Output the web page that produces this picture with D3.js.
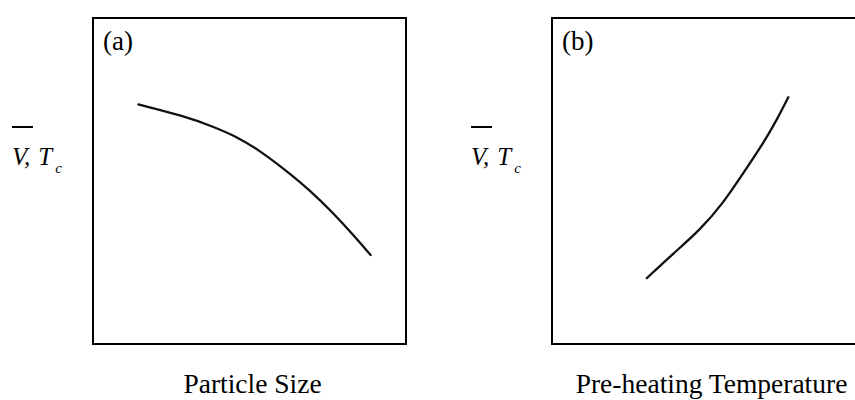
<!DOCTYPE html>
<html>
<head>
<meta charset="utf-8">
<script src="https://cdn.jsdelivr.net/npm/d3@7"></script>
<style>
  html, body { margin: 0; padding: 0; background: #fff; }
  svg { display: block; }
</style>
</head>
<body>
<svg id="chart" width="855" height="400"></svg>
<script>
// Qualitative trend curves (normalised 0..1 units)
const panelLabels = ["(a)", "(b)"];
const xTitles = ["Particle Size", "Pre-heating Temperature"];

const sizeX = [0.145, 0.288, 0.384, 0.459, 0.528, 0.608, 0.693, 0.768, 0.832, 0.887];
const sizeY = [0.735, 0.700, 0.667, 0.636, 0.596, 0.539, 0.472, 0.401, 0.334, 0.273];

const tempX = [0.303, 0.388, 0.473, 0.547, 0.611, 0.675, 0.718, 0.755];
const tempY = [0.202, 0.278, 0.350, 0.432, 0.524, 0.616, 0.687, 0.757];

const panels = [
  { label: panelLabels[0], title: xTitles[0], xs: sizeX, ys: sizeY, left: 93 },
  { label: panelLabels[1], title: xTitles[1], xs: tempX, ys: tempY, left: 552 }
];

const FONT = '"Liberation Serif", "Times New Roman", serif';
const svg = d3.select("#chart");
const panelW = 313, panelTop = 18, panelH = 326;

panels.forEach(p => {
  const x = d3.scaleLinear().domain([0, 1]).range([p.left, p.left + panelW]);
  const y = d3.scaleLinear().domain([0, 1]).range([panelTop + panelH, panelTop]);

  // frame
  svg.append("rect")
    .attr("x", x(0)).attr("y", y(1))
    .attr("width", x(1) - x(0)).attr("height", y(0) - y(1))
    .attr("fill", "none").attr("stroke", "#000").attr("stroke-width", 2);

  // panel tag
  svg.append("text")
    .attr("x", x(0) + 10).attr("y", y(1) + 32)
    .style("font-family", FONT).attr("font-size", 27)
    .text(p.label);

  // trend curve
  const pts = p.xs.map((v, i) => [v, p.ys[i]]);
  svg.append("path")
    .datum(pts)
    .attr("fill", "none").attr("stroke", "#111").attr("stroke-width", 2.3)
    .attr("stroke-linecap", "round")
    .attr("d", d3.line().x(d => x(d[0])).y(d => y(d[1])).curve(d3.curveBasis));

  // x title
  svg.append("text")
    .attr("x", x(0.5) + 3).attr("y", 393)
    .attr("text-anchor", "middle")
    .style("font-family", FONT).attr("font-size", 27.5)
    .text(p.title);

  // y title: V-bar, T_c
  const lx = x(0) - 81;
  svg.append("line")
    .attr("x1", lx).attr("x2", lx + 21)
    .attr("y1", 127).attr("y2", 127)
    .attr("stroke", "#000").attr("stroke-width", 2);
  const yt = svg.append("text")
    .attr("x", lx).attr("y", 165)
    .style("font-family", FONT).attr("font-size", 25)
    .attr("font-style", "italic");
  yt.append("tspan").text("V,");
  yt.append("tspan").attr("dx", 8).text("T");
  yt.append("tspan").attr("font-size", 15).attr("dy", 8).attr("dx", 3).text("c");
});
</script>
</body>
</html>
